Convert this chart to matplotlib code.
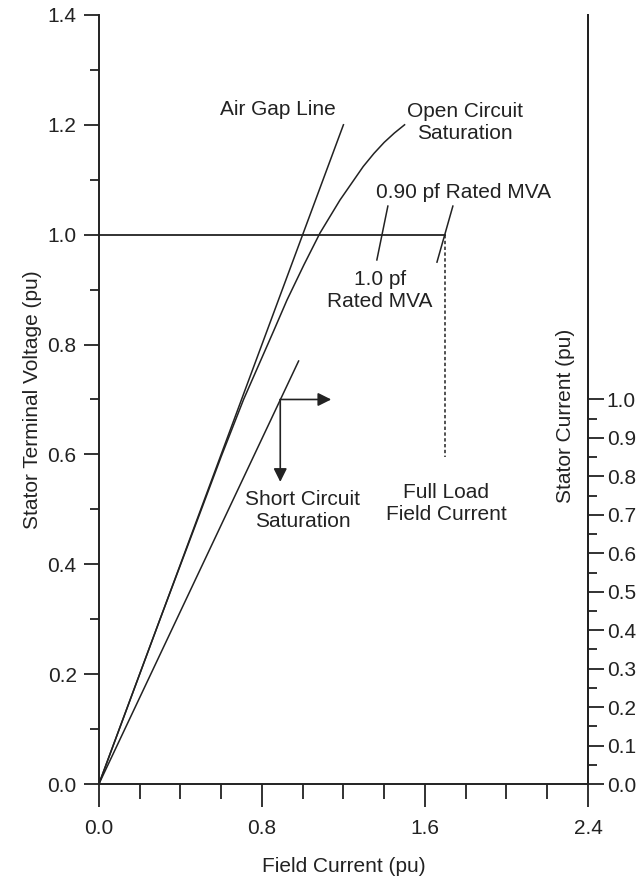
import matplotlib
matplotlib.use("Agg")
import matplotlib.pyplot as plt
from matplotlib.ticker import FixedLocator, FormatStrFormatter

plt.rcParams['font.family'] = ['Liberation Sans', 'DejaVu Sans']
plt.rcParams['font.size'] = 15

INK = '#222222'

# air gap line (straight)
air_gap_x = [0.0, 1.2]
air_gap_y = [0.0, 1.2]

# open circuit saturation curve
oc_x = [0.0, 0.30, 0.50, 0.60, 0.71, 0.859, 0.923, 1.006, 1.085, 1.183, 1.297, 1.35, 1.40, 1.45, 1.50]
oc_y = [0.0, 0.30, 0.497, 0.596, 0.70, 0.826, 0.881, 0.945, 1.003, 1.063, 1.124, 1.148, 1.168, 1.185, 1.20]

# short circuit saturation line
sc_x = [0.0, 0.98]
sc_y = [0.0, 0.77]

# rated voltage line and full load field current
rated_x = [0.0, 1.70]
rated_y = [1.0, 1.0]
full_load_x = [1.70, 1.70]
full_load_y = [1.0, 0.595]

# leader lines for the pf labels
lead_10pf_x = [1.364, 1.418]
lead_10pf_y = [0.954, 1.052]
lead_090pf_x = [1.659, 1.737]
lead_090pf_y = [0.950, 1.052]

# arrow corner on the short circuit line
arrow_corner = (0.89, 0.70)
arrow_right_end = (1.14, 0.70)
arrow_down_end = (0.89, 0.55)

x_major = [0.0, 0.8, 1.6, 2.4]
x_minor = [0.2, 0.4, 0.6, 1.0, 1.2, 1.4, 1.8, 2.0, 2.2]
y_major = [0.0, 0.2, 0.4, 0.6, 0.8, 1.0, 1.2, 1.4]
y_minor = [0.1, 0.3, 0.5, 0.7, 0.9, 1.1, 1.3]
r_major = [0.0, 0.1, 0.2, 0.3, 0.4, 0.5, 0.6, 0.7, 0.8, 0.9, 1.0]
r_minor = [0.05, 0.15, 0.25, 0.35, 0.45, 0.55, 0.65, 0.75, 0.85, 0.95]

fig = plt.figure(figsize=(6.38, 8.77), dpi=100)
ax = fig.add_axes([0.155, 0.106, 0.7666, 0.877])

lw = 1.1
ax.plot(air_gap_x, air_gap_y, color=INK, lw=lw)
ax.plot(oc_x, oc_y, color=INK, lw=lw)
ax.plot(sc_x, sc_y, color=INK, lw=lw)
ax.plot(rated_x, rated_y, color=INK, lw=1.3)
ax.plot(full_load_x, full_load_y, color=INK, lw=1.1, linestyle=(0, (2.2, 1.6)))
ax.plot(lead_10pf_x, lead_10pf_y, color=INK, lw=lw)
ax.plot(lead_090pf_x, lead_090pf_y, color=INK, lw=lw)

arrow_props = dict(arrowstyle='-|>', color=INK, lw=1.2, mutation_scale=20,
                   shrinkA=0, shrinkB=0)
ax.annotate('', xy=arrow_right_end, xytext=arrow_corner, arrowprops=arrow_props)
ax.annotate('', xy=arrow_down_end, xytext=arrow_corner, arrowprops=arrow_props)

txt = dict(color=INK, fontsize=15, ha='center', va='center', linespacing=1.2)
ax.text(0.88, 1.227, 'Air Gap Line', **txt)
ax.text(1.796, 1.205, 'Open Circuit\nSaturation', **txt)
ax.text(1.787, 1.076, '0.90 pf Rated MVA', **txt)
ax.text(1.379, 0.899, '1.0 pf\nRated MVA', **txt)
ax.text(1.00, 0.497, 'Short Circuit\nSaturation', **txt)
ax.text(1.703, 0.511, 'Full Load\nField Current', **txt)

ax.set_xlim(0, 2.4)
ax.set_ylim(0, 1.4)
ax.xaxis.set_major_locator(FixedLocator(x_major))
ax.xaxis.set_minor_locator(FixedLocator(x_minor))
ax.yaxis.set_major_locator(FixedLocator(y_major))
ax.yaxis.set_minor_locator(FixedLocator(y_minor))
ax.xaxis.set_major_formatter(FormatStrFormatter('%.1f'))
ax.yaxis.set_major_formatter(FormatStrFormatter('%.1f'))

ax.spines['top'].set_visible(False)
for s in ['left', 'bottom', 'right']:
    ax.spines[s].set_linewidth(1.4)
    ax.spines[s].set_color(INK)

ax.tick_params(axis='x', which='major', direction='out', length=16.5, width=1.3,
               pad=9, labelsize=15, colors=INK)
ax.tick_params(axis='x', which='minor', direction='out', length=11, width=1.3, colors=INK)
ax.tick_params(axis='y', which='major', direction='out', length=11, width=1.3,
               pad=5, labelsize=15, colors=INK)
ax.tick_params(axis='y', which='minor', direction='out', length=6.5, width=1.3, colors=INK)

ax.set_xlabel('Field Current (pu)', fontsize=15, color=INK, labelpad=13)
ax.set_ylabel('Stator Terminal Voltage (pu)', fontsize=15, color=INK, labelpad=4)

# right axis: stator current
ax2 = ax.twinx()
ax2.set_ylim(0, 2.0)
ax2.yaxis.set_major_locator(FixedLocator(r_major))
ax2.yaxis.set_minor_locator(FixedLocator(r_minor))
ax2.yaxis.set_major_formatter(FormatStrFormatter('%.1f'))
for s in ['top', 'left', 'bottom']:
    ax2.spines[s].set_visible(False)
ax2.spines['right'].set_linewidth(1.4)
ax2.spines['right'].set_color(INK)
ax2.tick_params(axis='y', which='major', direction='out', length=11.5, width=1.3,
                pad=2, labelsize=15, colors=INK)
ax2.tick_params(axis='y', which='minor', direction='out', length=6.5, width=1.3, colors=INK)
ax2.text(0.955, 0.957, 'Stator Current (pu)', rotation=90, ha='center', va='center',
         fontsize=15, color=INK, transform=ax2.get_yaxis_transform())

fig.savefig('out.png', dpi=100)
